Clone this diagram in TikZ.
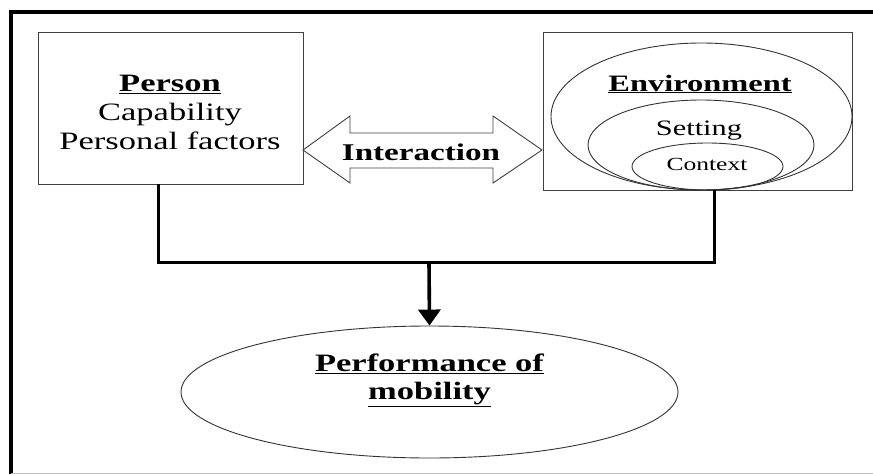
\documentclass[tikz,border=0pt]{standalone}
\usepackage{fontspec}
\setmainfont{Liberation Serif}[FakeStretch=1.38]
\usetikzlibrary{arrows.meta,shapes.geometric}

\tikzset{
  box/.style={draw=black!75, line width=0.9pt, minimum width=#1},
  oval/.style={draw=black!80, line width=0.9pt, ellipse, inner sep=0pt},
  conn/.style={line width=3pt, draw=black},
  frame/.style={line width=4pt, draw=black},
  txt/.style={inner sep=0pt, align=center},
}

\begin{document}
\begin{tikzpicture}[x=1pt, y=-1pt]
  \useasboundingbox (0,0) rectangle (873,474);

  % outer frame (open on the right)
  \draw[frame] (11,474) -- (11,12) -- (873,12);
  \draw[black!25, line width=1pt] (11,473) -- (873,473);

  % person box
  \node[box=265pt, minimum height=152pt, inner sep=0pt] (person) at (170.5,108) {};
  \node[txt, font=\fontsize{25}{29}\selectfont] (persontxt) at (170,112)
    {\textbf{\underline{Person}}\\Capability\\Personal factors};

  % environment box with nested ellipses
  \node[box=309pt, minimum height=158pt, inner sep=0pt] (env) at (697.5,111) {};
  \node[oval, minimum width=301pt, minimum height=147pt] (envov) at (701.5,116.5) {};
  \node[oval, minimum width=226pt, minimum height=90pt] (setov) at (701,145) {};
  \node[oval, minimum width=151pt, minimum height=47pt] (conov) at (707.5,166.5) {};
  \node[txt, font=\fontsize{23.5}{28}\selectfont\bfseries] (envtxt) at (700,84) {\underline{Environment}};
  \node[txt, font=\fontsize{22}{26}\selectfont] (settxt) at (699,131) {Setting};
  \node[txt, font=\fontsize{18.5}{22}\selectfont] (contxt) at (707,164) {Context};

  % interaction double arrow
  \draw[draw=black!75, line width=0.9pt, fill=white]
    (303,150) -- (350,116) -- (350,133) -- (493,133) -- (493,116) -- (542,150)
    -- (493,183) -- (493,168) -- (350,168) -- (350,183) -- cycle;
  \node[txt, font=\fontsize{24}{28}\selectfont\bfseries] (inter) at (421,152) {Interaction};

  % performance ellipse
  \node[oval, minimum width=497pt, minimum height=132pt] (perf) at (429.5,392) {};
  \node[txt, font=\fontsize{25}{28}\selectfont\bfseries] (perftxt) at (429.5,380)
    {\underline{Performance of}\\\underline{mobility}};

  % connectors
  \coordinate (j) at (429,262);
  \draw[conn] ([xshift=-12.5pt]person.south) |- (j) -| ([xshift=16.5pt]env.south);
  \draw[conn, line width=3.6pt, -{Triangle[width=22pt,length=16pt]}] (j) -- (perf.north);
\end{tikzpicture}
\end{document}
